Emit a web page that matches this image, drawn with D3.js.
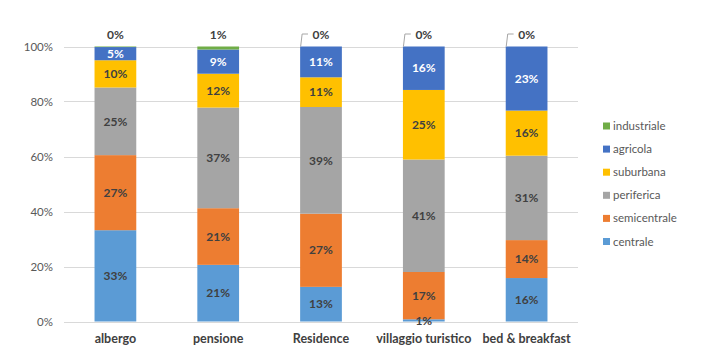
<!DOCTYPE html>
<html><head><meta charset="utf-8">
<script src="https://cdn.jsdelivr.net/npm/d3@7"></script>
<style>
body{margin:0;background:#fff;}
svg{display:block;font-family:Lato,"Open Sans",sans-serif;}
</style></head>
<body><svg id="c" width="713" height="355"></svg>
<script>
const categories = ["albergo","pensione","Residence","villaggio turistico","bed & breakfast"];
const seriesNames = ["centrale","semicentrale","periferica","suburbana","agricola","industriale"];
const centrale     = [33.2, 20.6, 12.6, 0.8, 15.8];
const semicentrale = [27.3, 20.6, 26.6, 17.2, 13.8];
const periferica   = [24.6, 36.6, 38.8, 40.9, 30.7];
const suburbana    = [9.9, 12.3, 10.8, 25.3, 16.4];
const agricola     = [4.8, 8.8, 11.2, 15.8, 23.3];
const industriale  = [0.2, 1.1, 0.0, 0.0, 0.0];
const yTicks = [0,20,40,60,80,100];
const colors = ["#5B9BD5","#ED7D31","#A5A5A5","#FFC000","#4472C4","#70AD47"];
const labelColors = ["#404040","#404040","#404040","#404040","#ffffff","#404040"];

const seriesValues = [centrale, semicentrale, periferica, suburbana, agricola, industriale];
const rows = categories.map((c,i)=>{
  const r = {cat:c};
  seriesNames.forEach((s,j)=>r[s]=seriesValues[j][i]);
  return r;
});
const stack = d3.stack().keys(seriesNames)(rows);

const svg = d3.select("#c");
const x = d3.scaleBand().domain(categories).range([64,578]).paddingInner(0.594).paddingOuter(0.297);
const y = d3.scaleLinear().domain([0,100]).range([321.5,46.5]);

// grid
svg.append("g").selectAll("line").data(yTicks).join("line")
  .attr("x1",64).attr("x2",578)
  .attr("y1",d=>Math.round(y(d))+0.5).attr("y2",d=>Math.round(y(d))+0.5)
  .attr("stroke","#d9d9d9").attr("stroke-width",1);

// y axis labels
const yAxis = d3.axisLeft(y).tickValues(yTicks).tickFormat(d=>d+"%").tickSize(0).tickPadding(0);
const ga = svg.append("g").attr("transform","translate(53,0)").call(yAxis);
ga.select(".domain").remove();
ga.selectAll("text").attr("fill","#595959").style("font-size","11.5px").style("font-family","Lato,'Open Sans',sans-serif");

// x axis labels
const xAxis = d3.axisBottom(x).tickSize(0).tickPadding(0);
const gx = svg.append("g").attr("transform","translate(0,334)").call(xAxis);
gx.select(".domain").remove();
gx.selectAll("text").attr("fill","#404040").style("font-size","12.5px").style("font-weight","bold").style("font-family","Lato,'Open Sans',sans-serif");

// bars
stack.forEach((layer,j)=>{
  svg.append("g").attr("fill",colors[j]).selectAll("rect").data(layer).join("rect")
    .attr("x",d=>x(d.data.cat)).attr("width",x.bandwidth())
    .attr("y",d=>y(d[1])).attr("height",d=>Math.max(0,y(d[0])-y(d[1])));
});

// labels for segments (not industriale)
stack.forEach((layer,j)=>{
  if(seriesNames[j]==="industriale") return;
  svg.append("g").selectAll("text").data(layer).join("text")
    .attr("x",d=>x(d.data.cat)+x.bandwidth()/2)
    .attr("y",d=>{
      const v = d[1]-d[0];
      if(v<3) return y(d[0])-1;
      return (y(d[0])+y(d[1]))/2;
    })
    .attr("dy","0.35em")
    .attr("text-anchor","middle")
    .attr("fill",labelColors[j])
    .style("font-size","12px").style("font-weight","bold")
    .text(d=>Math.round(d[1]-d[0])+"%");
});

// industriale labels above bars
const indLayer = stack[5];
const gi = svg.append("g");
indLayer.forEach((d,i)=>{
  const cx = x(d.data.cat)+x.bandwidth()/2;
  const v = d[1]-d[0];
  const ly = 35;
  gi.append("text").attr("x",cx).attr("y",ly).attr("dy","0.35em")
    .attr("text-anchor","middle").attr("fill","#404040")
    .style("font-size","12px").style("font-weight","bold")
    .text(Math.round(v)+"%");
  if(v===0){
    const bx = x(d.data.cat)+0.5;
    gi.append("path")
      .attr("d",`M${bx},${y(d[1])} L${bx+1.5},${ly-1} L${cx-13},${ly-1}`)
      .attr("fill","none").attr("stroke","#a6a6a6").attr("stroke-width",1);
  }
});

// legend
const lg = svg.append("g");
const legendOrder = seriesNames.slice().reverse();
legendOrder.forEach((s,i)=>{
  const j = seriesNames.indexOf(s);
  const yy = 126 + i*23.1;
  lg.append("rect").attr("x",603).attr("y",yy-3.5).attr("width",7).attr("height",7).attr("fill",colors[j]);
  lg.append("text").attr("x",613).attr("y",yy).attr("dy","0.35em")
    .attr("fill","#595959").style("font-size","11.5px").text(s);
});
</script></body></html>
